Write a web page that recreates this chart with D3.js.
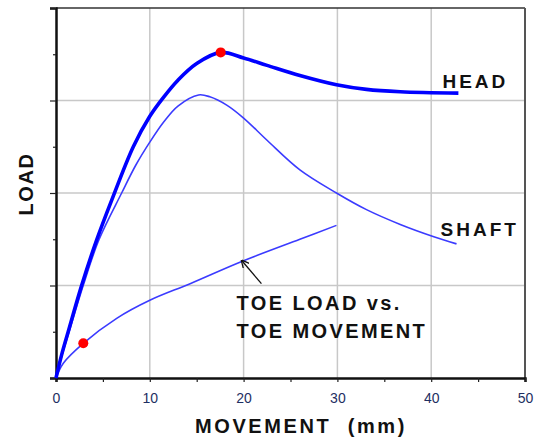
<!DOCTYPE html>
<html>
<head>
<meta charset="utf-8">
<script src="https://cdn.jsdelivr.net/npm/d3@7"></script>
<style>
  html, body { margin: 0; padding: 0; background: #fff; }
  svg { display: block; }
  text { font-family: "Liberation Sans", Arial, sans-serif; }
</style>
</head>
<body>
<svg id="chart" width="543" height="441"></svg>
<script>
// Load–movement curves (movement in mm, load in relative units)
const headCurve = [
  [0, 0], [0.6, 0.25], [1.3, 0.5], [2.73, 1.0], [4.33, 1.49], [5.93, 1.92],
  [8.24, 2.5], [10, 2.83], [11.5, 3.04], [13.0, 3.22], [15.0, 3.40],
  [17.56, 3.52], [20.0, 3.46], [22.5, 3.38], [26.0, 3.27], [29.9, 3.17],
  [33.1, 3.12], [36.7, 3.095], [42.9, 3.08]
];
const shaftCurve = [
  [0, 0], [0.65, 0.25], [1.4, 0.5], [2.9, 1.0], [4.6, 1.5], [7.0, 2.0],
  [8.5, 2.3], [10, 2.55], [11.5, 2.77], [13.0, 2.94], [15.2, 3.06],
  [16.4, 3.04], [18.2, 2.95], [20.0, 2.81], [22.5, 2.57], [26.0, 2.25],
  [29.9, 2.0], [33.1, 1.82], [36.7, 1.66], [40.2, 1.53], [42.7, 1.45]
];
const toeCurve = [
  [0, 0], [0.78, 0.16], [2.91, 0.375], [6.47, 0.645], [10, 0.84],
  [14.3, 1.02], [19.8, 1.26], [26.0, 1.50], [29.9, 1.65]
];
// Marked points: peak head load and toe point
const markers = [[17.56, 3.52], [2.91, 0.375]];

const xTicks = [0, 5, 10, 15, 20, 25, 30, 35, 40, 45, 50];
const yTicks = [0, 0.5, 1, 1.5, 2, 2.5, 3, 3.5, 4];
const xGrid = [10, 20, 30, 40];
const yGrid = [1, 2, 3];

// Curve labels: text, anchor point in data units
const curveLabels = [
  { text: "HEAD", x: 41.2, y: 3.14 },
  { text: "SHAFT", x: 41.0, y: 1.53 }
];
const noteLines = ["TOE LOAD vs.", "TOE MOVEMENT"];
const notePos = { x: 19.25, y: 0.74 };
const arrowFrom = [21.9, 1.02];
const arrowTo = [19.8, 1.27];

const svg = d3.select("#chart");
const margin = { left: 56, right: 18, top: 8, bottom: 63 };
const W = 543, H = 441;

const x = d3.scaleLinear().domain([0, 50]).range([margin.left, W - margin.right]);
const y = d3.scaleLinear().domain([0, 4]).range([H - margin.bottom, margin.top]);

// Grid
svg.append("g").selectAll("line").data(xGrid).join("line")
  .attr("x1", d => x(d)).attr("x2", d => x(d))
  .attr("y1", y(0)).attr("y2", y(4))
  .attr("stroke", "#c8c8c8").attr("stroke-width", 1.5);
svg.append("g").selectAll("line").data(yGrid).join("line")
  .attr("x1", x(0)).attr("x2", x(50))
  .attr("y1", d => y(d)).attr("y2", d => y(d))
  .attr("stroke", "#c8c8c8").attr("stroke-width", 1.5);

// Top and right frame
svg.append("line").attr("x1", x(0)).attr("x2", x(50)).attr("y1", y(4)).attr("y2", y(4))
  .attr("stroke", "#333").attr("stroke-width", 1.5);
svg.append("line").attr("x1", x(50)).attr("x2", x(50)).attr("y1", y(4)).attr("y2", y(0))
  .attr("stroke", "#555").attr("stroke-width", 2);

// Axes
const xAxis = svg.append("g").attr("transform", `translate(0,${y(0)})`)
  .call(d3.axisBottom(x).tickValues(xTicks).tickSize(4).tickPadding(11)
    .tickFormat(d => d % 10 === 0 ? d : ""));
xAxis.select(".domain").attr("stroke", "#111").attr("stroke-width", 2.5);
xAxis.selectAll(".tick line").attr("stroke", "#222").attr("stroke-width", 1.2);
xAxis.selectAll(".tick text")
  .attr("font-size", 14).attr("fill", "#1e2f62")
  .attr("font-family", "Liberation Sans, Arial, sans-serif");

const yAxis = svg.append("g").attr("transform", `translate(${x(0)},0)`)
  .call(d3.axisLeft(y).tickValues(yTicks).tickSize(6).tickFormat(""));
yAxis.select(".domain").attr("stroke", "#111").attr("stroke-width", 2.5);
yAxis.selectAll(".tick line").attr("stroke", "#222").attr("stroke-width", 1.2)
  .attr("x2", d => d % 1 === 0 ? -6 : -3);

// Curves
const line = d3.line().x(d => x(d[0])).y(d => y(d[1])).curve(d3.curveCatmullRom.alpha(0.5));
svg.append("path").datum(toeCurve).attr("d", line)
  .attr("fill", "none").attr("stroke", "#3b3bff").attr("stroke-width", 1.6);
svg.append("path").datum(shaftCurve).attr("d", line)
  .attr("fill", "none").attr("stroke", "#3b3bff").attr("stroke-width", 1.6);
svg.append("path").datum(headCurve).attr("d", line)
  .attr("fill", "none").attr("stroke", "#0000ff").attr("stroke-width", 3.6)
  .attr("stroke-linejoin", "round");

// Markers
svg.append("g").selectAll("circle").data(markers).join("circle")
  .attr("cx", d => x(d[0])).attr("cy", d => y(d[1])).attr("r", 5)
  .attr("fill", "#ff0000");

// Arrow to toe curve
svg.append("defs").append("marker")
  .attr("id", "arrowhead").attr("viewBox", "0 0 10 10")
  .attr("refX", 9).attr("refY", 5).attr("markerWidth", 8).attr("markerHeight", 8)
  .attr("markerUnits", "userSpaceOnUse").attr("orient", "auto")
  .append("path").attr("d", "M0,0 L10,5 L0,10").attr("fill", "none")
  .attr("stroke", "#111").attr("stroke-width", 1.6);
svg.append("line")
  .attr("x1", x(arrowFrom[0])).attr("y1", y(arrowFrom[1]))
  .attr("x2", x(arrowTo[0])).attr("y2", y(arrowTo[1]))
  .attr("stroke", "#111").attr("stroke-width", 1.3)
  .attr("marker-end", "url(#arrowhead)");

// Curve labels
svg.append("g").selectAll("text").data(curveLabels).join("text")
  .attr("x", d => x(d.x)).attr("y", d => y(d.y))
  .text(d => d.text)
  .attr("font-size", 19).attr("font-weight", "bold").attr("letter-spacing", 3)
  .attr("fill", "#111");

svg.append("g").selectAll("text").data(noteLines).join("text")
  .attr("x", x(notePos.x)).attr("y", (d, i) => y(notePos.y) + i * 28)
  .text(d => d)
  .attr("font-size", 20).attr("font-weight", "bold").attr("letter-spacing", 2.4)
  .attr("fill", "#111");

// Axis titles
svg.append("text")
  .attr("x", 195).attr("y", 433)
  .attr("xml:space", "preserve").style("white-space", "pre")
  .text("MOVEMENT  (mm)")
  .attr("font-size", 20).attr("font-weight", "bold").attr("letter-spacing", 2.6)
  .attr("fill", "#111");

svg.append("text")
  .attr("transform", `translate(33,${(y(0) + y(4)) / 2 - 9}) rotate(-90)`)
  .attr("text-anchor", "middle")
  .text("LOAD")
  .attr("font-size", 20).attr("font-weight", "bold").attr("letter-spacing", 1.6)
  .attr("fill", "#111");
</script>
</body>
</html>
